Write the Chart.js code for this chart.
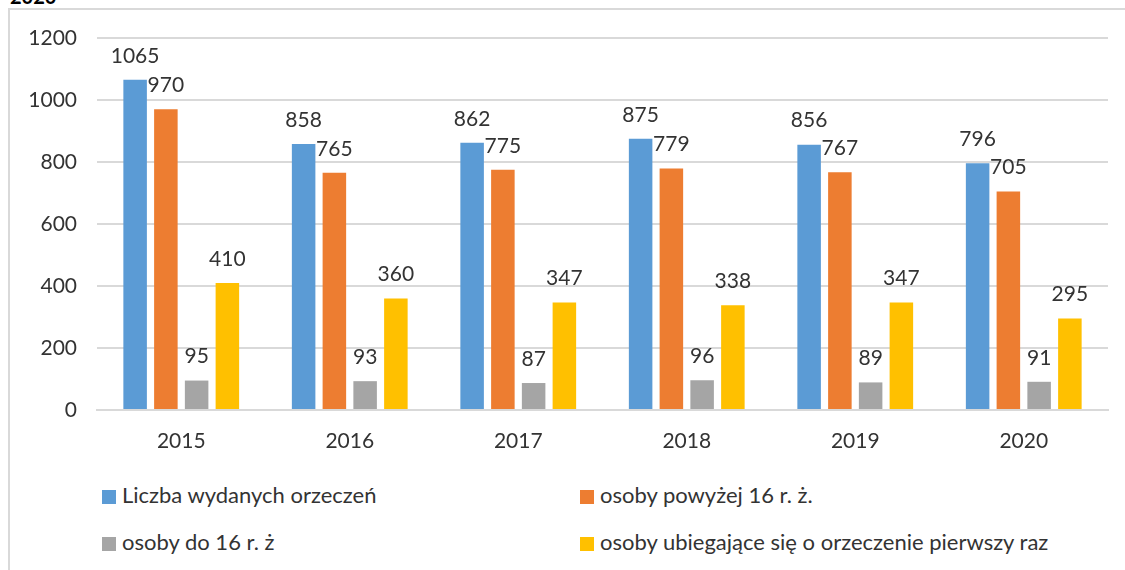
<!DOCTYPE html>
<html>
<head>
<meta charset="utf-8">
<script src="https://cdn.jsdelivr.net/npm/chart.js@4"></script>
<style>
  body { margin: 0; background: #fff; overflow: hidden; font-family: Lato, sans-serif; }
  #page { position: relative; width: 1125px; height: 570px; overflow: hidden; }
  .frame { position: absolute; left: 8px; top: 8px; width: 1200px; height: 600px; border: 2px solid #d9d9d9; box-sizing: border-box; }
  .docTitle { position: absolute; left: 10px; top: -16px; font: bold 20px Lato, sans-serif; color: #000; }
  canvas { position: absolute; left: 0; top: 0; }
  .legend { position: absolute; left: 0; top: 0; }
  .legItem { position: absolute; font-size: 22px; color: #333; white-space: nowrap; line-height: 22px; }
  .legItem span.box { display: inline-block; width: 14px; height: 14px; margin-right: 6px; vertical-align: -1px; }
</style>
</head>
<body>
<div id="page">
  <div class="docTitle">2020</div>
  <div class="frame"></div>
  <canvas id="myChart" width="1125" height="470"></canvas>
  <div class="legend" id="legend"></div>
</div>
<script>
const years = ['2015', '2016', '2017', '2018', '2019', '2020']
const seriesNames = [
  'Liczba wydanych orzeczeń',
  'osoby powyżej 16 r. ż.',
  'osoby do 16 r. ż',
  'osoby ubiegające się o orzeczenie pierwszy raz'
]
const liczbaOrzeczen = [1065, 858, 862, 875, 856, 796]
const powyzej16 = [970, 765, 775, 779, 767, 705]
const do16 = [95, 93, 87, 96, 89, 91]
const pierwszyRaz = [410, 360, 347, 338, 347, 295]
const yTicks = [0, 200, 400, 600, 800, 1000, 1200]
const colors = ['#5b9bd5', '#ed7d31', '#a5a5a5', '#ffc000']

const allValues = [liczbaOrzeczen, powyzej16, do16, pierwszyRaz]

// labels above each bar, like excel "outside end"
const barLabels = {
  id: 'barLabels',
  afterDatasetsDraw(chart) {
    const ctx = chart.ctx
    ctx.save()
    ctx.font = '21px Lato, sans-serif'
    ctx.fillStyle = '#333'
    ctx.textAlign = 'center'
    ctx.textBaseline = 'middle'
    chart.data.datasets.forEach((ds, i) => {
      chart.getDatasetMeta(i).data.forEach((bar, j) => {
        ctx.fillText(ds.data[j], bar.x, bar.y - 24)
      })
    })
    ctx.restore()
  }
}

const config = {
  type: 'bar',
  data: {
    labels: years,
    datasets: allValues.map((vals, i) => ({
      label: seriesNames[i],
      data: vals,
      backgroundColor: colors[i],
      categoryPercentage: 0.73,
      barPercentage: 0.765
    }))
  },
  options: {
    responsive: false,
    animation: false,
    layout: { padding: { top: 38, right: 17, left: 0, bottom: 0 } },
    plugins: { legend: { display: false }, tooltip: { enabled: false } },
    scales: {
      x: {
        grid: { display: false, drawTicks: false },
        border: { color: '#d9d9d9', width: 2 },
        ticks: { font: { family: 'Lato', size: 21 }, color: '#333', padding: 19 },
        afterFit: s => { s.height = 60 }
      },
      y: {
        min: 0,
        max: 1200,
        afterBuildTicks: s => { s.ticks = yTicks.map(v => ({ value: v })) },
        grid: { color: '#d9d9d9', lineWidth: 2, drawTicks: false },
        border: { display: false },
        ticks: { font: { family: 'Lato', size: 21 }, color: '#333', padding: 20, callback: v => String(v) },
        afterFit: s => { s.width = 97 }
      }
    }
  },
  plugins: [barLabels]
}

const myChart = new Chart(document.getElementById('myChart'), config)

// legend in two columns, as in the original
const legendPos = [[102, 484], [580, 484], [102, 531], [580, 531]]
const legend = document.getElementById('legend')
seriesNames.forEach((name, i) => {
  let item = document.createElement('div')
  item.classList.add('legItem')
  item.style.left = legendPos[i][0] + 'px'
  item.style.top = legendPos[i][1] + 'px'
  let box = document.createElement('span')
  box.classList.add('box')
  box.style.background = colors[i]
  item.appendChild(box)
  item.appendChild(document.createTextNode(name))
  legend.appendChild(item)
})
</script>
</body>
</html>
